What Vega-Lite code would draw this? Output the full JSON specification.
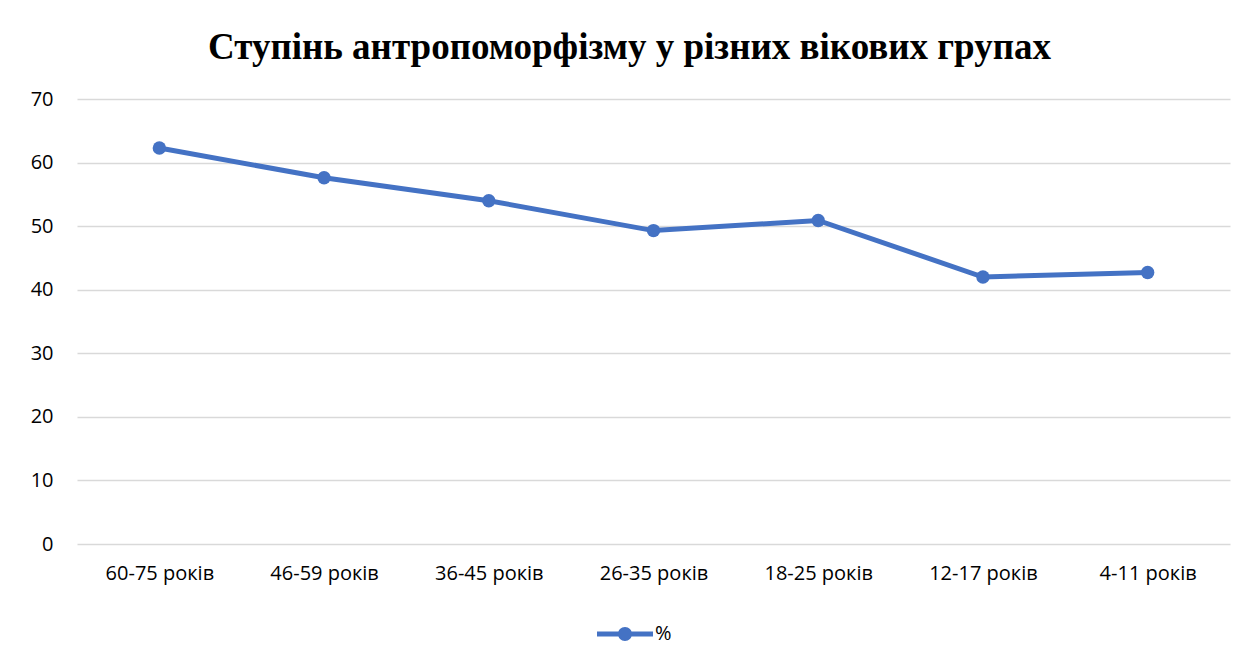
{
  "$schema": "https://vega.github.io/schema/vega-lite/v6.json",
  "width": 1153,
  "height": 445,
  "autosize": "none",
  "padding": {"left": 77, "top": 99, "right": 28, "bottom": 122},
  "background": "white",
  "title": {
    "text": "Ступінь антропоморфізму у різних вікових групах",
    "font": "Liberation Serif",
    "fontSize": 37,
    "fontWeight": "bold",
    "color": "#000000",
    "anchor": "middle",
    "dx": -24,
    "offset": 22
  },
  "data": {
    "values": [
      {"group": "60-75 років", "value": 62.3, "series": "%"},
      {"group": "46-59 років", "value": 57.6, "series": "%"},
      {"group": "36-45 років", "value": 54.0, "series": "%"},
      {"group": "26-35 років", "value": 49.3, "series": "%"},
      {"group": "18-25 років", "value": 50.9, "series": "%"},
      {"group": "12-17 років", "value": 42.0, "series": "%"},
      {"group": "4-11 років", "value": 42.7, "series": "%"}
    ]
  },
  "mark": {"type": "line", "strokeWidth": 5, "point": {"size": 180, "filled": true, "opacity": 1}},
  "encoding": {
    "x": {
      "field": "group",
      "type": "nominal",
      "sort": null,
      "title": null,
      "scale": {"paddingInner": 0, "paddingOuter": 0.5},
      "axis": {"labelAngle": 0, "domain": false, "ticks": false, "grid": false, "labelFont": "Open Sans", "labelFontSize": 20, "labelColor": "#000000", "labelPadding": 19}
    },
    "y": {
      "field": "value",
      "type": "quantitative",
      "title": null,
      "scale": {"domain": [0, 70], "nice": false},
      "axis": {"values": [0, 10, 20, 30, 40, 50, 60, 70], "domain": false, "ticks": false, "gridColor": "#d9d9d9", "gridWidth": 1.3, "labelFont": "Open Sans", "labelFontSize": 20, "labelColor": "#000000", "labelPadding": 24}
    },
    "color": {
      "field": "series",
      "type": "nominal",
      "scale": {"range": ["#4472C4"]},
      "legend": {
        "title": null,
        "orient": "none",
        "legendX": 520,
        "legendY": 507,
        "direction": "horizontal",
        "symbolType": "M-1,-0.09 L1,-0.09 L1,0.09 L-1,0.09 Z M0.25,0 A0.25,0.25 0 1 1 -0.25,0 A0.25,0.25 0 1 1 0.25,0 Z",
        "symbolSize": 3136,
        "symbolStrokeWidth": 0,
        "symbolFillColor": "#4472C4",
        "symbolOpacity": 1,
        "labelFont": "Open Sans",
        "labelFontSize": 20,
        "labelColor": "#000000",
        "labelOffset": 2
      }
    }
  },
  "config": {"view": {"stroke": null}}
}
